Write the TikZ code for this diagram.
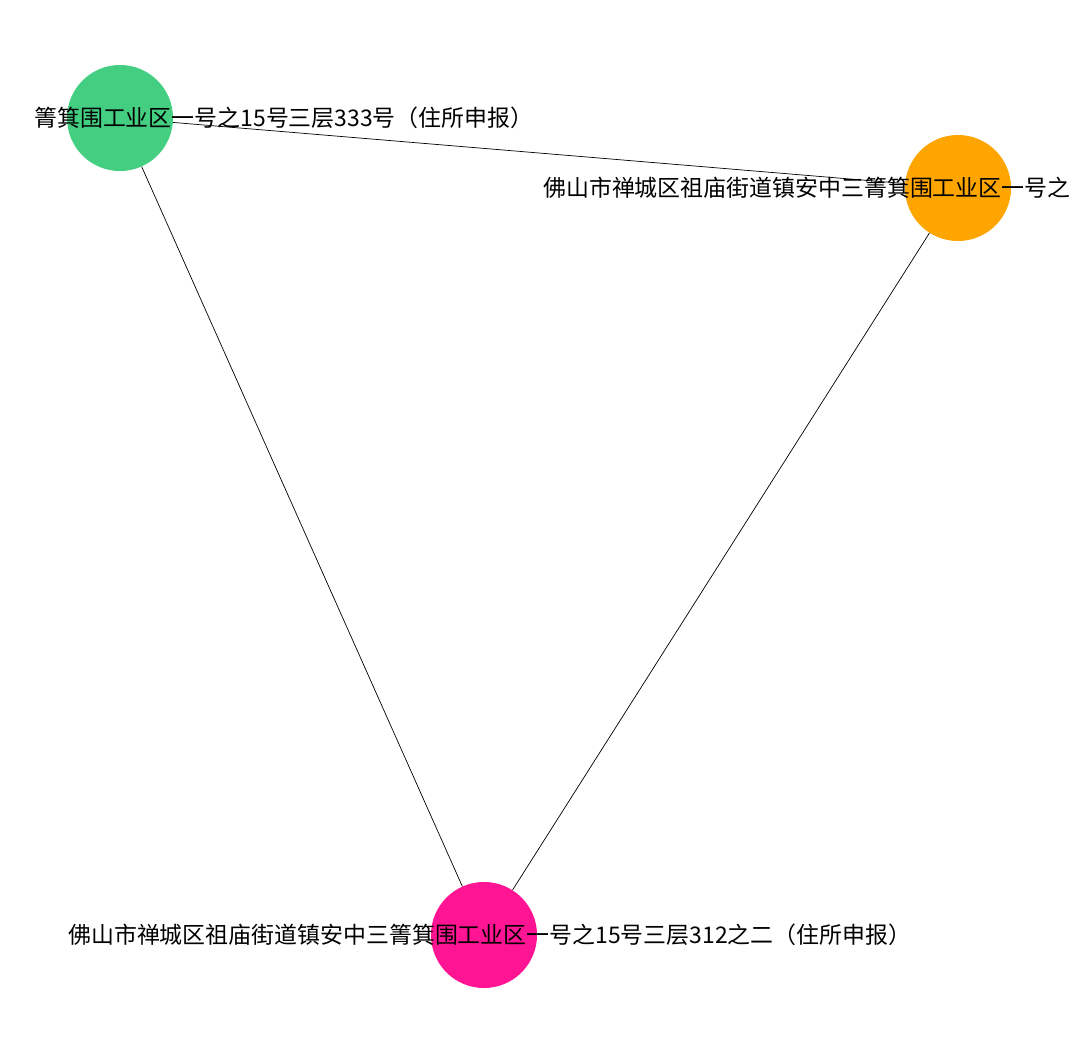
\documentclass[tikz,border=0pt]{standalone}
\usepackage{fontspec}
\usepackage{xcolor}
\usepackage{tikz}
\usetikzlibrary{positioning}
\newfontfamily\cjk{Noto Sans CJK SC}
\definecolor{addrgreen}{RGB}{67,206,129}
\definecolor{addrorange}{RGB}{255,165,0}
\definecolor{addrpink}{RGB}{255,20,147}

\begin{document}
\begin{tikzpicture}[x=0.025cm,y=-0.025cm,
    addr/.style={circle,draw=none,minimum size=2.65cm,inner sep=0pt},
    lbl/.style={inner sep=0pt,font=\cjk\fontsize{16.3}{18}\selectfont,text=black},
    link/.style={black,line width=0.5pt}]
  \useasboundingbox[fill=white] (0,0) rectangle (1080,1054);
  % three addresses
  \node[addr,fill=addrgreen]  (a333) at (120,118) {};
  \node[addr,fill=addrorange] (aorg) at (958,188) {};
  \node[addr,fill=addrpink]   (a312) at (484,935) {};
  % links
  \draw[link] (a333) -- (aorg);
  \draw[link] (a333) -- (a312);
  \draw[link] (aorg) -- (a312);
  % labels
  \node[lbl,anchor=west] (l333) at (34,118) {箐箕围工业区一号之15号三层333号（住所申报）};
  \node[lbl,anchor=west] (lorg) at (543,188) {佛山市禅城区祖庙街道镇安中三箐箕围工业区一号之};
  \node[lbl,anchor=west] (l312) at (68,935) {佛山市禅城区祖庙街道镇安中三箐箕围工业区一号之15号三层312之二（住所申报）};
\end{tikzpicture}
\end{document}
